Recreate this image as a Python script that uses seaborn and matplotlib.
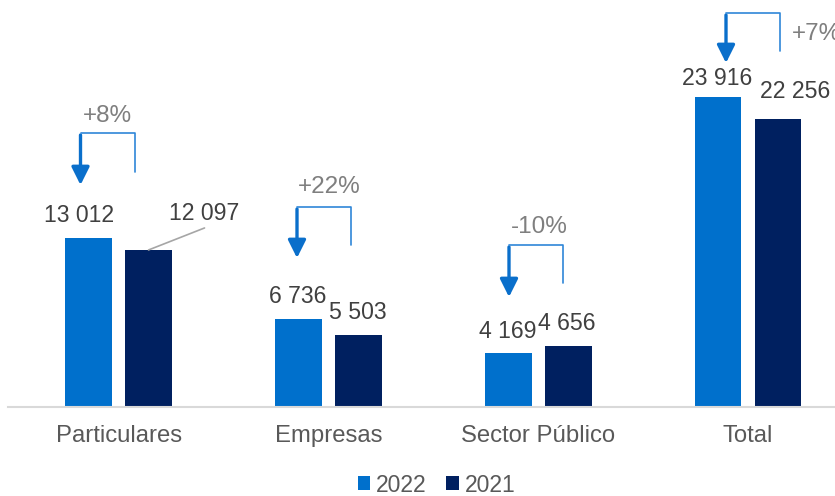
import matplotlib
matplotlib.use("Agg")
import matplotlib.pyplot as plt
import seaborn as sns
import pandas as pd
from matplotlib.lines import Line2D
from matplotlib.patches import FancyArrowPatch

# Data
categories = ["Particulares", "Empresas", "Sector Público", "Total"]
years = ["2022", "2021"]
values_2022 = [13012, 6736, 4169, 23916]
values_2021 = [12097, 5503, 4656, 22256]

W, H, DPI = 835, 496, 100
BLUE = "#0070CC"
NAVY = "#002060"

sns.set_theme(style="white")
plt.rcParams["font.family"] = ["Liberation Sans", "DejaVu Sans"]

df = pd.DataFrame({
    "categoria": categories * 2,
    "año": [years[0]] * len(categories) + [years[1]] * len(categories),
    "valor": values_2022 + values_2021,
})

fig = plt.figure(figsize=(W / DPI, H / DPI), dpi=DPI)
base_y = 406.5  # baseline position, pixels from the top
ax = fig.add_axes([8 / W, (H - base_y) / H, 845 / W, base_y / H])

sns.barplot(data=df, x="categoria", y="valor", hue="año", order=categories,
            hue_order=years, palette=[BLUE, NAVY], saturation=1,
            width=0.571, gap=0.22, linewidth=0, ax=ax)

ax.set_xlim(-0.527, 3.5)
ax.set_ylim(0, 31414)
ax.set_xlabel("")
ax.set_ylabel("")
ax.set_yticks([])
for side in ("top", "left", "right"):
    ax.spines[side].set_visible(False)
ax.spines["bottom"].set_color("#D9D9D9")
ax.spines["bottom"].set_linewidth(1.5)
ax.tick_params(axis="x", length=0, pad=13.5, labelsize=17.2, labelcolor="#595959")


def fmt(v):
    return f"{v:,}".replace(",", " ")


# Value labels: per-bar offsets (pixels) from the top centre of each bar
label_offsets = [
    [(-9.5, 16), (-1, 16), (-1, 15), (-1, 12)],    # 2022
    [(55.5, 30), (-0.5, 16), (-1, 16), (17.5, 21)],  # 2021
]
for container, offsets in zip(ax.containers, label_offsets):
    for bar, (dx, dy) in zip(container.patches, offsets):
        xc = bar.get_x() + bar.get_width() / 2
        h = bar.get_height()
        ax.annotate(fmt(int(round(h))), xy=(xc, h), xytext=(dx, dy),
                    textcoords="offset pixels", ha="center", va="baseline",
                    fontsize=16.6, color="#404040", annotation_clip=False)

# Leader line for the Particulares 2021 label
p21 = ax.containers[1].patches[0]
ax.annotate("", xy=(p21.get_x() + p21.get_width() / 2, p21.get_height()),
            xytext=(56, 22), textcoords="offset pixels",
            arrowprops=dict(arrowstyle="-", color="#A6A6A6", lw=1.2,
                            shrinkA=0, shrinkB=0))

# Year-over-year change brackets (figure pixels, measured from the top)
changes = [f"{round((a / b - 1) * 100):+d}%" for a, b in zip(values_2022, values_2021)]
brackets = [
    # x_left, x_right, y_top, y_right_end, y_tip, label_x, label_y, ha
    (80.5, 135, 133, 172, 185, 107, 122, "center"),
    (297, 351, 207, 245, 258, 329.5, 193, "center"),
    (509, 563, 245, 283, 297, 539, 233, "center"),
    (726, 780, 13, 51, 63, 792, 40, "left"),
]


def fx(x):
    return x / W


def fy(y):
    return 1 - y / H


for (xl, xr, yt, yr, ytip, lx, ly, ha), txt in zip(brackets, changes):
    fig.add_artist(Line2D([fx(xl), fx(xr), fx(xr)], [fy(yt), fy(yt), fy(yr)],
                          transform=fig.transFigure, color="#2F86D8", lw=1.2))
    arrow = FancyArrowPatch((fx(xl), fy(yt + 2)), (fx(xl), fy(ytip)),
                            transform=fig.transFigure,
                            arrowstyle="-|>,head_length=10.8,head_width=5.4",
                            mutation_scale=1, color="#0A6FCB", lw=2.4,
                            shrinkA=0, shrinkB=0)
    fig.add_artist(arrow)
    fig.text(fx(lx), fy(ly), txt, ha=ha, va="baseline", fontsize=17.5,
             color="#7F7F7F")

# Legend below the chart
handles, labels = ax.get_legend_handles_labels()
if ax.legend_ is not None:
    ax.legend_.remove()
fig.legend(handles, labels, loc="center", bbox_to_anchor=(436.5 / W, 1 - 485 / H),
           ncol=2, frameon=False, fontsize=16.5, labelcolor="#595959",
           handlelength=0.55, handleheight=0.55, handletextpad=0.25,
           columnspacing=0.85, borderpad=0, borderaxespad=0)

fig.savefig("out.png", dpi=DPI)
